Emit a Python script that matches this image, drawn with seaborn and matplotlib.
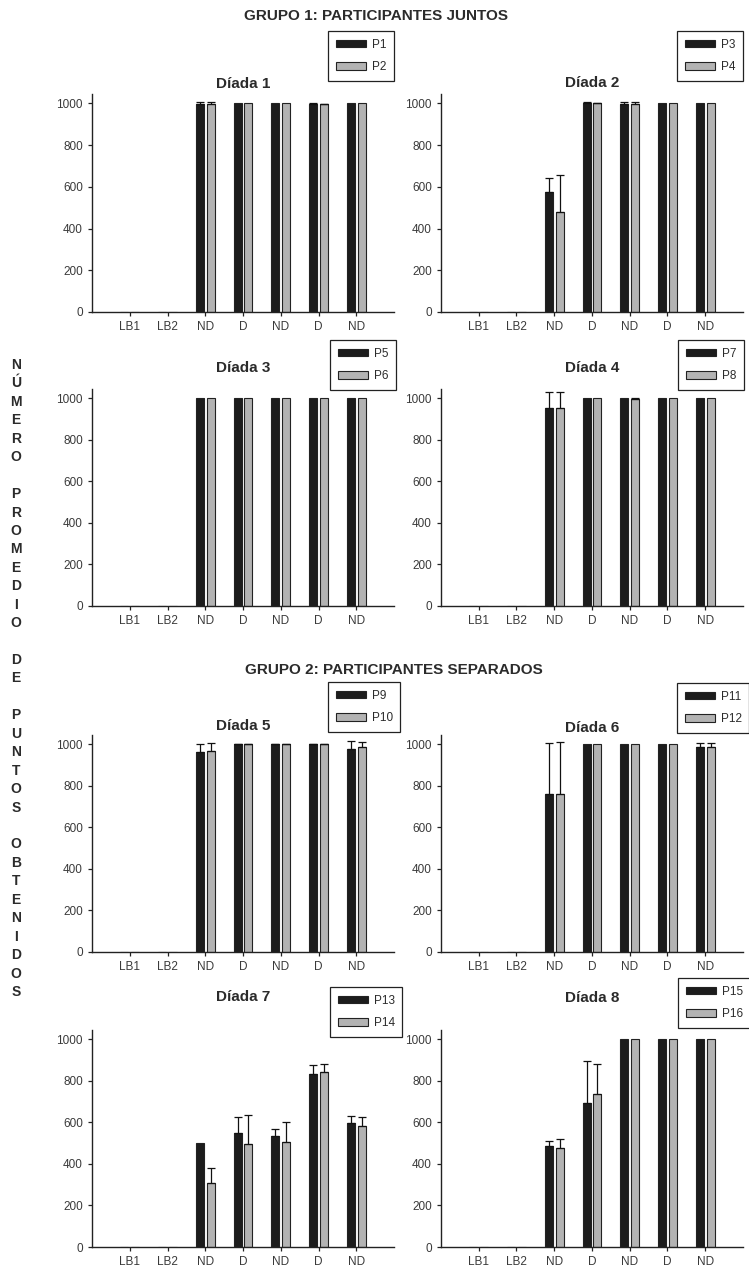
import matplotlib
matplotlib.use("Agg")
import matplotlib.pyplot as plt
import seaborn as sns
import pandas as pd
import numpy as np

# ---------------- DATA ----------------
phases = ["LB1", "LB2", "ND1", "D1", "ND2", "D2", "ND3"]
tick_labels = ["LB1", "LB2", "ND", "D", "ND", "D", "ND"]

p1 = [0, 0, 995, 1000, 1000, 997, 1000]
p1_err = [0, 0, 12, 0, 0, 3, 0]
p2 = [0, 0, 995, 1000, 1000, 995, 1000]
p2_err = [0, 0, 12, 0, 0, 4, 0]

p3 = [0, 0, 575, 1003, 995, 1000, 1000]
p3_err = [0, 0, 65, 2, 12, 0, 0]
p4 = [0, 0, 480, 1000, 995, 1000, 1000]
p4_err = [0, 0, 175, 4, 12, 0, 0]

p5 = [0, 0, 1000, 1000, 1000, 1000, 1000]
p5_err = [0, 0, 0, 0, 0, 0, 0]
p6 = [0, 0, 1000, 1000, 1000, 1000, 1000]
p6_err = [0, 0, 0, 0, 0, 0, 0]

p7 = [0, 0, 955, 1000, 1000, 1000, 1000]
p7_err = [0, 0, 75, 0, 0, 0, 0]
p8 = [0, 0, 955, 1000, 995, 1000, 1000]
p8_err = [0, 0, 75, 0, 8, 0, 0]

p9 = [0, 0, 962, 1000, 1000, 1000, 978]
p9_err = [0, 0, 38, 2, 2, 2, 38]
p10 = [0, 0, 967, 1000, 1000, 1000, 985]
p10_err = [0, 0, 38, 2, 2, 2, 25]

p11 = [0, 0, 760, 1000, 1000, 1000, 985]
p11_err = [0, 0, 245, 0, 0, 0, 20]
p12 = [0, 0, 760, 1000, 1000, 1000, 985]
p12_err = [0, 0, 250, 0, 0, 0, 20]

p13 = [0, 0, 500, 550, 535, 833, 597]
p13_err = [0, 0, 0, 75, 33, 42, 33]
p14 = [0, 0, 307, 495, 505, 845, 582]
p14_err = [0, 0, 73, 142, 95, 35, 43]

p15 = [0, 0, 487, 693, 1000, 1000, 1000]
p15_err = [0, 0, 23, 205, 0, 0, 0]
p16 = [0, 0, 475, 737, 1000, 1000, 1000]
p16_err = [0, 0, 43, 143, 0, 0, 0]

dyads = [
    ("Díada 1", "P1", p1, p1_err, "P2", p2, p2_err),
    ("Díada 2", "P3", p3, p3_err, "P4", p4, p4_err),
    ("Díada 3", "P5", p5, p5_err, "P6", p6, p6_err),
    ("Díada 4", "P7", p7, p7_err, "P8", p8, p8_err),
    ("Díada 5", "P9", p9, p9_err, "P10", p10, p10_err),
    ("Díada 6", "P11", p11, p11_err, "P12", p12, p12_err),
    ("Díada 7", "P13", p13, p13_err, "P14", p14, p14_err),
    ("Díada 8", "P15", p15, p15_err, "P16", p16, p16_err),
]

group1_title = "GRUPO 1: PARTICIPANTES JUNTOS"
group2_title = "GRUPO 2: PARTICIPANTES SEPARADOS"
ylabel_words = ["NÚMERO", "PROMEDIO", "DE", "PUNTOS", "OBTENIDOS"]

# ---------------- STYLE ----------------
sns.set_theme(style="ticks")
plt.rcParams["font.family"] = ["Liberation Sans", "DejaVu Sans"]
TXT = "#2b2b2b"
BLACK = "#1c1c1c"
GRAY = "#b3b3b3"
EDGE = "#222222"

W, H = 749, 1275
fig = plt.figure(figsize=(W / 100, H / 100), dpi=100)
fig.patch.set_facecolor("white")

rows = [(94, 312), (389, 606), (735, 952), (1030, 1247)]
cols = [(92, 394), (441, 743)]
title_y = [84, 83, 368, 368, 726, 728, 997, 998]
legend_pos = [(328, 31), (677, 31), (330, 340), (678, 340),
              (328, 682), (677, 683), (330, 987), (678, 978)]


def add_axes_px(l, t, r, b):
    return fig.add_axes([l / W, 1 - b / H, (r - l) / W, (b - t) / H])


for i, (title, na, va, ea, nb, vb, eb) in enumerate(dyads):
    t, b = rows[i // 2]
    l, r = cols[i % 2]
    ax = add_axes_px(l, t, r, b)
    ax.set_facecolor("white")

    df = pd.DataFrame({
        "phase": phases * 2,
        "value": va + vb,
        "participant": [na] * len(phases) + [nb] * len(phases),
    })
    errs = {na: ea, nb: eb}

    sns.barplot(data=df, x="phase", y="value", hue="participant",
                order=phases, hue_order=[na, nb], palette=[BLACK, GRAY],
                width=0.58, gap=0.27, errorbar=None, edgecolor=EDGE,
                linewidth=0.8, saturation=1, ax=ax)

    for cont, name in zip(ax.containers, [na, nb]):
        xs, hs, es = [], [], []
        for patch, e in zip(cont.patches, errs[name]):
            if e > 0:
                xs.append(patch.get_x() + patch.get_width() / 2)
                hs.append(patch.get_height())
                es.append(e)
        if xs:
            ax.errorbar(xs, hs, yerr=[np.zeros(len(es)), es], fmt="none",
                        ecolor="#111111", elinewidth=0.9, capsize=3,
                        capthick=0.9, zorder=5)

    handles, labels = ax.get_legend_handles_labels()
    if ax.get_legend() is not None:
        ax.get_legend().remove()
    lx, ly = legend_pos[i]
    leg = ax.legend(handles, labels, loc="upper left",
                    bbox_to_anchor=(lx / W, 1 - ly / H),
                    bbox_transform=fig.transFigure, frameon=True,
                    fancybox=False, edgecolor=EDGE, framealpha=1,
                    fontsize=8.5, handlelength=2.6, handleheight=0.6,
                    handletextpad=0.45, borderpad=0.65, labelspacing=0.9,
                    borderaxespad=0)
    leg.get_frame().set_linewidth(0.9)
    for txt in leg.get_texts():
        txt.set_color(TXT)

    ax.set_xlim(-1, 7)
    ax.set_ylim(0, 1045)
    ax.set_yticks([0, 200, 400, 600, 800, 1000])
    ax.set_xticks(range(len(phases)))
    ax.set_xticklabels(tick_labels)
    ax.set_xlabel("")
    ax.set_ylabel("")
    for s in ["top", "right"]:
        ax.spines[s].set_visible(False)
    for s in ["left", "bottom"]:
        ax.spines[s].set_color(EDGE)
        ax.spines[s].set_linewidth(1.0)
    ax.tick_params(axis="both", colors=EDGE, labelcolor="#3a3a3a",
                   labelsize=8.5, length=3, width=0.9, pad=3.5)

    fig.text((l + r) / 2 / W, 1 - title_y[i] / H, title, ha="center",
             va="center", fontsize=11, fontweight="bold", color=TXT)

fig.text(244 / W, 1 - 16 / H, group1_title, ha="left", va="center",
         fontsize=11, fontweight="bold", color=TXT)
fig.text(245 / W, 1 - 670 / H, group2_title, ha="left", va="center",
         fontsize=11, fontweight="bold", color=TXT)

# stacked vertical y label
lines = []
for k, w in enumerate(ylabel_words):
    if k > 0:
        lines.append("")
    lines.extend(list(w))
y0, pitch = 365, 18.44
for j, ch in enumerate(lines):
    if ch:
        fig.text(16 / W, 1 - (y0 + j * pitch) / H, ch, ha="center",
                 va="center", fontsize=10, fontweight="bold", color=TXT)

fig.savefig("out.png", dpi=100, facecolor="white")
